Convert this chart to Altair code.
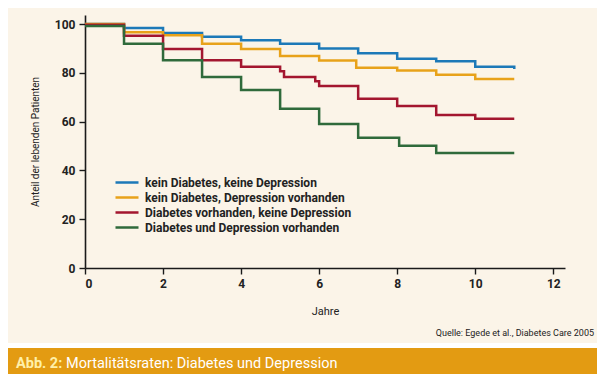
import altair as alt
import pandas as pd

# ---- data ----
series_names = [
    "kein Diabetes, keine Depression",
    "kein Diabetes, Depression vorhanden",
    "Diabetes vorhanden, keine Depression",
    "Diabetes und Depression vorhanden",
]
series_colors = ["#1c79b8", "#e8a21a", "#a3162f", "#2f6a3b"]

blue_t = [0, 1, 2, 3, 4, 5, 6, 7, 8, 9, 10, 11]
blue_v = [100, 98.4, 96.3, 94.8, 93.4, 91.9, 90.0, 88.0, 85.8, 84.7, 82.5, 81.6]

yellow_t = [0, 1, 2, 3, 4, 5, 6, 6.95, 8, 9, 10, 11]
yellow_v = [100, 96.6, 95.4, 91.9, 89.8, 86.9, 85.0, 82.1, 81.0, 79.2, 77.5, 77.5]

red_t = [0, 1, 2, 3, 4, 5, 5.1, 5.9, 6, 7, 8, 9, 10, 11]
red_v = [99.7, 95.2, 89.8, 85.2, 82.5, 80.6, 78.3, 76.5, 74.6, 69.4, 66.4, 62.7, 61.2, 61.2]

green_t = [0, 1, 2, 3, 4, 5, 6, 7, 8.05, 9, 11]
green_v = [99.2, 91.9, 85.2, 78.3, 73.0, 65.3, 59.0, 53.4, 50.1, 47.1, 47.1]

x_ticks = [0, 2, 4, 6, 8, 10, 12]
y_ticks = [0, 20, 40, 60, 80, 100]

x_title = "Jahre"
y_title = "Anteil der lebenden Patienten"
source_text = "Quelle: Egede et al., Diabetes Care 2005"
banner_bold = "Abb. 2:"
banner_text = "Mortalitätsraten: Diabetes und Depression"

FONT = "Roboto, Liberation Sans, sans-serif"
BG = "#fbf4e8"

rows = []
for k, (ts, vs) in enumerate([(blue_t, blue_v), (yellow_t, yellow_v), (red_t, red_v), (green_t, green_v)]):
    for t, v in zip(ts, vs):
        rows.append({"Jahre": t, "Anteil": v, "Gruppe": series_names[k], "ord": [0, 1, 3, 2][k]})
df = pd.DataFrame(rows)

lines = alt.Chart(df).mark_line(interpolate="step-after", strokeWidth=2.5).encode(
    x=alt.X("Jahre:Q",
            scale=alt.Scale(domain=[0, 12.3], nice=False),
            axis=alt.Axis(values=x_ticks, title=x_title, grid=False, format="d",
                          titlePadding=16, titleFontWeight="normal", titleFontSize=11)),
    y=alt.Y("Anteil:Q",
            scale=alt.Scale(domain=[0, 103.7], nice=False),
            axis=alt.Axis(values=y_ticks, title=y_title, grid=False, format="d",
                          titlePadding=14, titleFontWeight="normal", titleFontSize=10)),
    color=alt.Color("Gruppe:N",
                    scale=alt.Scale(domain=series_names, range=series_colors),
                    legend=alt.Legend(title=None, orient="none", legendX=29, legendY=160,
                                      symbolType="stroke", symbolSize=529, symbolStrokeWidth=2.5,
                                      labelFont=FONT, labelFontSize=12, labelFontWeight="bold",
                                      labelColor="#222222", labelOffset=5, rowPadding=0,
                                      clipHeight=15, labelLimit=400)),
    order=alt.Order("ord:Q"),
    detail="Gruppe:N",
)

# white separator strip and orange banner at the bottom
deco = pd.DataFrame({"k": [0]})
white_strip = alt.Chart(deco).mark_rect(color="#ffffff").encode(
    x=alt.value(-80), x2=alt.value(520), y=alt.value(328), y2=alt.value(333))
banner = alt.Chart(deco).mark_rect(color="#e39b12").encode(
    x=alt.value(-80), x2=alt.value(520), y=alt.value(333), y2=alt.value(365))

t1 = alt.Chart(pd.DataFrame({"t": [banner_bold]})).mark_text(
    align="left", baseline="alphabetic", font=FONT, fontSize=14.5, fontWeight="bold",
    color="#fff0a8").encode(x=alt.value(-69), y=alt.value(353), text="t:N")
t2 = alt.Chart(pd.DataFrame({"t": [banner_text]})).mark_text(
    align="left", baseline="alphabetic", font=FONT, fontSize=14.5, fontWeight="normal",
    color="#ffffff").encode(x=alt.value(-19), y=alt.value(353), text="t:N")
src = alt.Chart(pd.DataFrame({"t": [source_text]})).mark_text(
    align="right", baseline="middle", font=FONT, fontSize=9, color="#222222").encode(
    x=alt.value(509), y=alt.value(318), text="t:N")

chart = alt.layer(white_strip, banner, lines, t1, t2, src).properties(
    width=480, height=253,
    autosize=alt.AutoSizeParams(type="none"),
    padding={"left": 77, "top": 7, "right": 32, "bottom": 106},
    background=BG,
).configure_view(stroke=None).configure_axis(
    domainColor="#1a1a1a", domainWidth=1.6, tickColor="#1a1a1a", tickWidth=1.4, tickSize=6,
    labelFont=FONT, labelFontSize=12, labelFontWeight="bold", labelColor="#222222",
    titleFont=FONT, titleColor="#222222", labelPadding=4,
)

chart.save("out.html", embed_options={"renderer": "svg", "actions": False})
